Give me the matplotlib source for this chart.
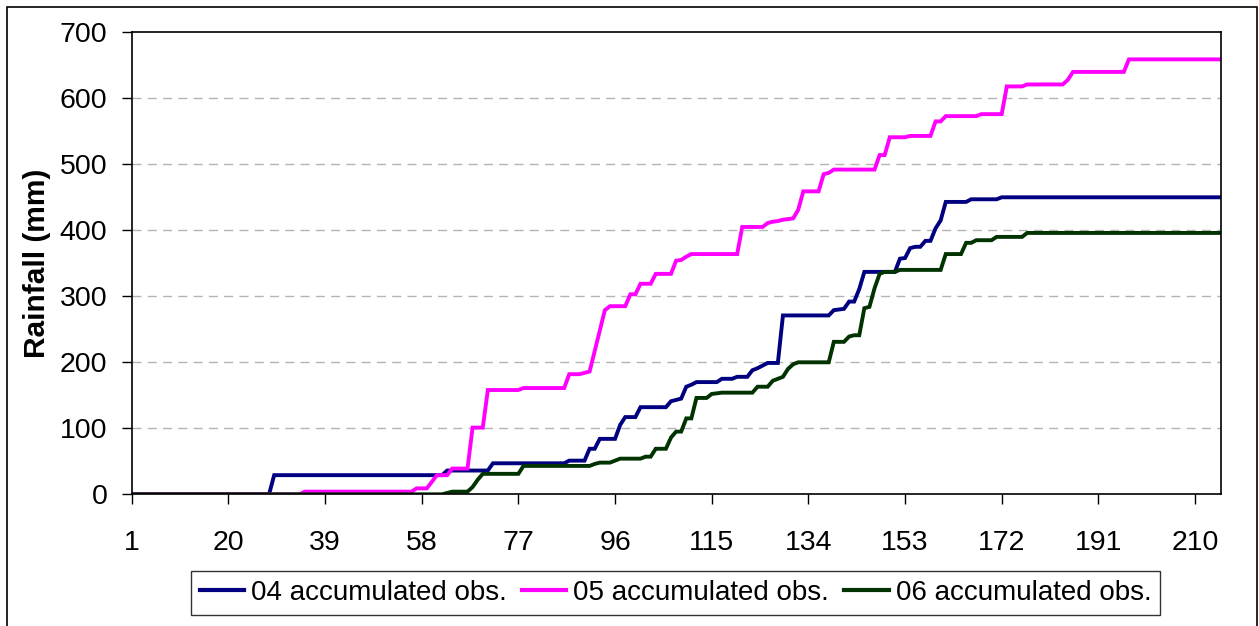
import matplotlib
matplotlib.use("Agg")
import matplotlib.pyplot as plt
from matplotlib.patches import Rectangle

plt.rcParams['font.family'] = ['Liberation Sans', 'DejaVu Sans']
plt.rcParams['lines.scale_dashes'] = False

# ---- data: (day, cumulative rainfall mm) knots ----
days_04 = [1, 28, 29, 62, 63, 71, 72, 86, 87, 90, 91, 92, 93, 96, 97, 98, 100, 101, 106, 107, 108, 109,
           110, 111, 112, 116, 117, 119, 120, 122, 123, 124, 125, 126, 128, 129, 138, 139, 141, 142, 143,
           144, 145, 151, 152, 153, 154, 155, 156, 157, 158, 159, 160, 161, 165, 166, 171, 172, 215]
rain_04 = [0, 0, 29, 29, 36, 36, 47, 47, 51, 51, 69, 69, 84, 84, 105, 117, 117, 132, 132, 141, 143, 145,
           163, 166, 170, 170, 175, 175, 178, 178, 188, 191, 195, 199, 199, 271, 271, 279, 281, 292, 292,
           311, 337, 337, 357, 358, 373, 375, 375, 384, 384, 403, 415, 443, 443, 447, 447, 450, 450]

days_05 = [1, 34, 35, 56, 57, 59, 60, 61, 63, 64, 67, 68, 70, 71, 77, 78, 86, 87, 89, 90, 91, 92, 93, 94,
           95, 98, 99, 100, 101, 103, 104, 107, 108, 109, 110, 111, 120, 121, 125, 126, 127, 128, 129, 131,
           132, 133, 136, 137, 138, 139, 147, 148, 149, 150, 153, 154, 158, 159, 160, 161, 167, 168, 172,
           173, 176, 177, 184, 185, 186, 196, 197, 215]
rain_05 = [0, 0, 4, 4, 9, 9, 19, 29, 29, 39, 39, 101, 101, 158, 158, 161, 161, 182, 182, 184, 186, 217, 248, 279,
           285, 285, 303, 303, 319, 319, 334, 334, 354, 355, 360, 364, 364, 405, 405, 411, 413, 414, 416, 418,
           431, 459, 459, 485, 487, 492, 492, 514, 514, 541, 541, 543, 543, 565, 565, 573, 573, 576, 576,
           618, 618, 621, 621, 628, 640, 640, 659, 659]

days_06 = [1, 62, 63, 64, 67, 68, 69, 70, 77, 78, 91, 92, 93, 95, 96, 97, 101, 102, 103, 104, 106, 107, 108,
           109, 110, 111, 112, 114, 115, 117, 123, 124, 126, 127, 128, 129, 130, 131, 132, 138, 139, 141, 142,
           143, 144, 145, 146, 147, 148, 149, 151, 152, 160, 161, 164, 165, 166, 167, 170, 171, 176, 177, 215]
rain_06 = [0, 0, 2, 4, 4, 11, 22, 31, 31, 43, 43, 46, 48, 48, 51, 54, 54, 57, 57, 69, 69, 86, 95,
           95, 115, 115, 146, 146, 152, 154, 154, 163, 163, 172, 175, 178, 190, 197, 200, 200, 231, 231, 239,
           241, 241, 282, 284, 312, 334, 337, 337, 340, 340, 364, 364, 381, 381, 385, 385, 390, 390, 396, 396]

series_labels = ['04 accumulated obs.', '05 accumulated obs.', '06 accumulated obs.']
x_ticks = [1, 20, 39, 58, 77, 96, 115, 134, 153, 172, 191, 210]
y_ticks = [0, 100, 200, 300, 400, 500, 600, 700]

W, H = 1259, 626
fig = plt.figure(figsize=(W / 100, H / 100), dpi=100)
ax = fig.add_axes([131.7 / W, 1 - 494.3 / H, (1221 - 131.7) / W, (494.3 - 32.3) / H])

colors = ['#000080', '#FF00FF', '#003300']
for d, r, c, lab in zip([days_04, days_05, days_06], [rain_04, rain_05, rain_06], colors, series_labels):
    ax.plot(d, r, color=c, lw=2.8, label=lab, solid_joinstyle='miter')

ax.set_xlim(1, 215.1)
ax.set_ylim(0, 700)
ax.set_xticks(x_ticks)
ax.set_xticklabels([str(t) for t in x_ticks])
ax.set_yticks(y_ticks)
ax.set_yticklabels([str(t) for t in y_ticks])

for yv in y_ticks[1:-1]:
    ax.axhline(yv, color='#b4b4b4', lw=1.0, linestyle=(0, (6.5, 4.5)), zorder=0)

for s in ax.spines.values():
    s.set_color('#000000')
    s.set_linewidth(1.2)

ax.tick_params(axis='x', direction='out', length=7.5, width=1, labelsize=20.5, pad=18, color='black')
ax.tick_params(axis='y', direction='out', length=7.5, width=1, labelsize=20.5, pad=10, color='black')
ax.set_ylabel('Rainfall (mm)', fontsize=21.5, fontweight='bold')
ax.yaxis.set_label_coords(-0.074, 0.5)

leg = fig.legend(loc='center', bbox_to_anchor=(675.5 / W, 1 - 593 / H), bbox_transform=fig.transFigure,
                 ncol=3, fontsize=20, frameon=True, fancybox=False, handlelength=1.6,
                 handletextpad=0.25, columnspacing=0.55, borderpad=0.32, borderaxespad=0)
leg.get_frame().set_edgecolor('black')
leg.get_frame().set_linewidth(1.0)
for line in leg.get_lines():
    line.set_linewidth(3)

fig.patches.append(Rectangle((7 / W, -0.05), (1257 - 7) / W, 1 - 7 / H + 0.05, transform=fig.transFigure,
                             fill=False, edgecolor='black', lw=1.2))

fig.savefig('out.png', dpi=100)
